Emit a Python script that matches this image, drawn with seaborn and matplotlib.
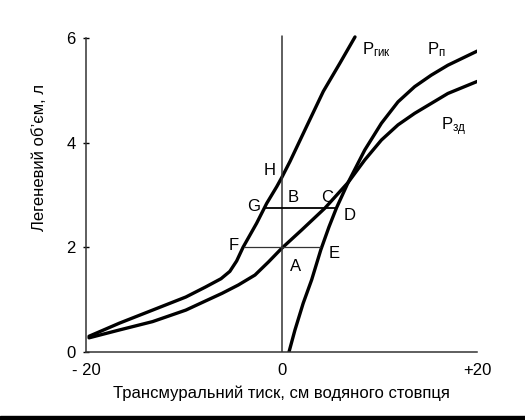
import matplotlib
matplotlib.use("Agg")
import matplotlib.pyplot as plt
import seaborn as sns
import pandas as pd
from matplotlib.patches import Rectangle

# chest wall curve (P_гик)
chest_x = [-19.7, -16.6, -13.2, -9.8, -7.8, -6.2, -5.3, -4.6, -3.95, -2.56, -1.53,
           -0.5, 0.0, 0.85, 2.55, 4.26, 5.96, 7.5]
chest_y = [0.3, 0.55, 0.8, 1.05, 1.24, 1.4, 1.54, 1.74, 2.0, 2.46, 2.84,
           3.16, 3.33, 3.64, 4.31, 4.98, 5.52, 6.02]

# lung curve (P_п)
lung_x = [0.75, 1.36, 2.2, 3.07, 4.0, 4.84, 5.6, 6.8, 8.5, 10.2, 11.9, 13.6, 15.3, 17.0, 20.0]
lung_y = [0.0, 0.42, 0.93, 1.38, 1.95, 2.39, 2.75, 3.24, 3.86, 4.37, 4.78, 5.07, 5.29, 5.48, 5.75]

# relaxation curve (P_зд)
relax_x = [-19.7, -16.6, -13.2, -9.8, -7.84, -6.1, -4.43, -2.73, -1.35, 0.0, 2.04, 4.43,
           6.8, 8.5, 10.2, 11.9, 13.6, 15.3, 17.0, 20.0]
relax_y = [0.27, 0.42, 0.58, 0.8, 0.97, 1.12, 1.28, 1.47, 1.72, 1.98, 2.33, 2.75,
           3.24, 3.67, 4.05, 4.34, 4.56, 4.75, 4.94, 5.17]

# horizontal segments F-E and G-D, vertical zero line
fe_x = [-3.9, 3.95]
fe_y = [2.0, 2.0]
gd_x = [-1.75, 5.6]
gd_y = [2.75, 2.75]
zero_x = [0, 0]
zero_y = [0, 6.03]

# point letters
point_names = ["H", "B", "C", "G", "D", "F", "E", "A"]
point_x = [-1.2, 1.2, 4.7, -2.9, 6.9, -4.9, 5.4, 1.4]
point_y = [3.47, 2.96, 2.96, 2.78, 2.6, 2.03, 1.88, 1.64]

# curve names
curve_names = ["P$_{\\mathrm{гик}}$", "P$_{\\mathrm{п}}$", "P$_{\\mathrm{зд}}$"]
curve_lx = [8.2, 14.9, 16.3]
curve_ly = [5.77, 5.77, 4.3]

x_ticks = [-20, 0, 20]
x_ticklabels = ["- 20", "0", "+20"]
y_ticks = [0, 2, 4, 6]

sns.set_theme(style="white")
plt.rcParams['font.family'] = ['Liberation Sans', 'DejaVu Sans']
plt.rcParams['mathtext.fontset'] = 'custom'
plt.rcParams['mathtext.rm'] = 'Liberation Sans'
plt.rcParams['mathtext.it'] = 'Liberation Sans'

fig = plt.figure(figsize=(5.25, 4.2), dpi=100)
ax = fig.add_axes([0.164, 0.162, 0.745, 0.76])

curves = pd.concat([
    pd.DataFrame({'x': chest_x, 'y': chest_y, 'curve': 'chest'}),
    pd.DataFrame({'x': lung_x, 'y': lung_y, 'curve': 'lung'}),
    pd.DataFrame({'x': relax_x, 'y': relax_y, 'curve': 'relax'}),
])
sns.lineplot(data=curves, x='x', y='y', units='curve', estimator=None, sort=False,
             color='black', lw=2.4, ax=ax, legend=False)

ax.plot(zero_x, zero_y, color='#333333', lw=1.1)
ax.plot(fe_x, fe_y, color='#333333', lw=0.9)
ax.plot(gd_x, gd_y, color='black', lw=1.3)

for name, px, py in zip(point_names, point_x, point_y):
    ax.text(px, py, name, fontsize=12, ha='center', va='center', color='black')

for name, px, py in zip(curve_names, curve_lx, curve_ly):
    ax.text(px, py, name, fontsize=12, ha='left', va='center', color='black')

ax.set_xlim(-20, 20)
ax.set_ylim(0, 6.1)
ax.set_xticks(x_ticks)
ax.set_xticklabels(x_ticklabels)
ax.set_yticks(y_ticks)
ax.tick_params(axis='x', length=0, pad=8, labelsize=12, colors='black')
ax.tick_params(axis='y', direction='inout', length=5, width=1, pad=5, labelsize=12,
               colors='black', left=True)
for side in ['top', 'right']:
    ax.spines[side].set_visible(False)
ax.spines['left'].set_bounds(0, 6)
ax.spines['left'].set_color('#333333')
ax.spines['bottom'].set_color('#333333')
ax.spines['left'].set_linewidth(1.1)
ax.spines['bottom'].set_linewidth(1.1)

ax.set_xlabel("Трансмуральний тиск, см водяного стовпця", fontsize=12, color='black', labelpad=5)
ax.set_ylabel("Легеневий об’єм, л", fontsize=12, color='black')
ax.yaxis.set_label_coords(-0.1, 0.608)

fig.patches.append(Rectangle((0, 0), 1, 4 / 420, transform=fig.transFigure,
                             color='black', zorder=10))

fig.savefig("out.png", dpi=100)
